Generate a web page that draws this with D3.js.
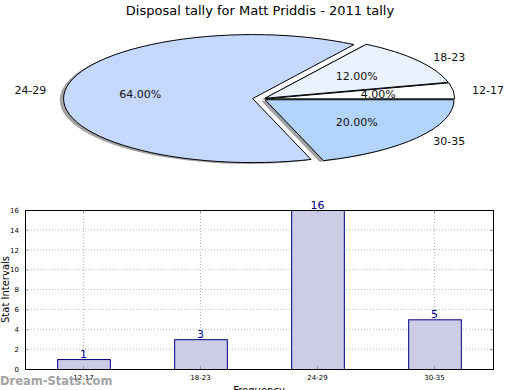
<!DOCTYPE html>
<html><head><meta charset="utf-8">
<script src="https://cdn.jsdelivr.net/npm/d3@7"></script>
<style>body{margin:0;background:#fff}svg{display:block;font-family:"DejaVu Sans",sans-serif}</style>
</head><body><svg id="c" width="520" height="390"></svg>
<script>
const categories = ["12-17", "18-23", "24-29", "30-35"];
const counts = [1, 3, 16, 5];
const pieColors = ["#ffffff", "#eaf1ff", "#c5d8ff", "#b3d4ff"];
const explode = [0.02, 0.02, 0.05, 0.02];
const yTicks = [0, 2, 4, 6, 8, 10, 12, 14, 16];
const title = "Disposal tally for Matt Priddis - 2011 tally";

const svg = d3.select("#c");
svg.append("text").attr("x", 260).attr("y", 15).attr("text-anchor", "middle")
  .attr("font-size", 13).attr("fill", "#000").text(title);

// ---- Pie (elliptical, matplotlib style: start east, counter-clockwise)
const cx = 262, cy = 99, rx = 189, ry = 64;
const total = d3.sum(counts);
const pie = d3.pie().sort(null).startAngle(Math.PI / 2).endAngle(Math.PI / 2 - 2 * Math.PI);
const arcs = pie(counts);
const arcGen = d3.arc().innerRadius(0).outerRadius(1);
const g = svg.append("g");
function offs(d, i) {
  const mid = (d.startAngle + d.endAngle) / 2; // d3 angle: 0 top, clockwise
  const e = explode[i];
  return [cx + e * rx * Math.sin(mid), cy - e * ry * Math.cos(mid), mid];
}
// shadows
arcs.forEach((d, i) => {
  const [ox, oy] = offs(d, i);
  g.append("path").attr("d", arcGen(d))
    .attr("transform", `translate(${ox - 0.02 * rx},${oy + 0.02 * ry}) scale(${rx},${ry})`)
    .attr("fill", "#555").attr("fill-opacity", 0.55);
});
arcs.forEach((d, i) => {
  const [ox, oy] = offs(d, i);
  g.append("path").attr("d", arcGen(d))
    .attr("transform", `translate(${ox},${oy}) scale(${rx},${ry})`)
    .attr("fill", pieColors[i]).attr("stroke", "#000").attr("stroke-width", 1)
    .attr("vector-effect", "non-scaling-stroke").attr("stroke-linejoin", "miter");
});
arcs.forEach((d, i) => {
  const [ox, oy, mid] = offs(d, i);
  const sx = Math.sin(mid), sy = -Math.cos(mid);
  const lx = ox + 1.1 * rx * sx, ly = oy + 1.1 * ry * sy;
  g.append("text").attr("x", lx).attr("y", ly).attr("dy", "0.35em")
    .attr("text-anchor", sx < 0 ? "end" : "start").attr("font-size", 11).attr("fill", "#111")
    .text(categories[i]);
  const px = ox + 0.6 * rx * sx, py = oy + 0.6 * ry * sy;
  g.append("text").attr("x", px).attr("y", py).attr("dy", "0.35em")
    .attr("text-anchor", "middle").attr("font-size", 11).attr("fill", "#111")
    .text((counts[i] / total * 100).toFixed(2) + "%");
});

// ---- Bar chart
const L = 25, R = 493, T = 210, B = 369;
const x = d3.scaleBand().domain(categories).range([L, R]).paddingInner(0.55).paddingOuter(0.275);
const y = d3.scaleLinear().domain([0, 16]).range([B, T]);
const bg = svg.append("g");
// grid
bg.selectAll(".hg").data(yTicks.slice(1, -1)).join("line")
  .attr("x1", L).attr("x2", R).attr("y1", d => y(d)).attr("y2", d => y(d))
  .attr("stroke", "#b8b8b8").attr("stroke-dasharray", "1,2").attr("stroke-width", 1);
bg.selectAll(".vg").data(categories).join("line")
  .attr("x1", d => x(d) + x.bandwidth() / 2).attr("x2", d => x(d) + x.bandwidth() / 2)
  .attr("y1", T).attr("y2", B)
  .attr("stroke", "#b8b8b8").attr("stroke-dasharray", "1,2").attr("stroke-width", 1);
// bars
bg.selectAll(".bar").data(counts).join("rect")
  .attr("x", (d, i) => x(categories[i]) + 0.5).attr("width", x.bandwidth())
  .attr("y", d => y(d) + 0.5).attr("height", d => B - y(d))
  .attr("fill", "#ccccE6").attr("stroke", "#000080").attr("stroke-width", 1);
// inward ticks
const yAxisL = d3.axisLeft(y).tickValues(yTicks).tickSize(-3).tickPadding(6);
const gy = bg.append("g").attr("transform", `translate(${L},0)`).call(yAxisL);
gy.select(".domain").remove();
gy.selectAll("line").attr("stroke", "#999");
gy.selectAll("text").attr("font-size", 7).attr("fill", "#000").attr("font-family", "DejaVu Sans");
const gyr = bg.append("g").attr("transform", `translate(${R},0)`).call(d3.axisRight(y).tickValues(yTicks).tickSize(-3).tickFormat(""));
gyr.select(".domain").remove(); gyr.selectAll("line").attr("stroke", "#999");
const xAxisB = d3.axisBottom(x).tickSize(-3).tickPadding(6);
const gx = bg.append("g").attr("transform", `translate(0,${B})`).call(xAxisB);
gx.select(".domain").remove();
gx.selectAll("line").attr("stroke", "#999");
gx.selectAll("text").attr("font-size", 7).attr("fill", "#000").attr("font-family", "DejaVu Sans");
const gxt = bg.append("g").attr("transform", `translate(0,${T})`).call(d3.axisTop(x).tickSize(-3).tickFormat(""));
gxt.select(".domain").remove(); gxt.selectAll("line").attr("stroke", "#999");
// frame
bg.append("rect").attr("x", L + 0.5).attr("y", T + 0.5).attr("width", R - L).attr("height", B - T)
  .attr("fill", "none").attr("stroke", "#000").attr("stroke-width", 1);
// value labels
bg.selectAll(".vl").data(counts).join("text")
  .attr("x", (d, i) => x(categories[i]) + x.bandwidth() / 2).attr("y", d => y(d) - 1)
  .attr("text-anchor", "middle").attr("font-size", 11).attr("fill", "#00008b").text(d => d);
svg.append("text").attr("transform", `translate(9,${(T + B) / 2}) rotate(-90)`)
  .attr("text-anchor", "middle").attr("font-size", 10).text("Stat Intervals");
svg.append("text").attr("x", (L + R) / 2).attr("y", 394).attr("text-anchor", "middle")
  .attr("font-size", 10).text("Frequency");
svg.append("text").attr("x", 0).attr("y", 385).attr("font-size", 11.5).attr("font-weight", "bold")
  .attr("fill", "#888").attr("fill-opacity", 0.8).text("Dream-Stats.com");
</script></body></html>
